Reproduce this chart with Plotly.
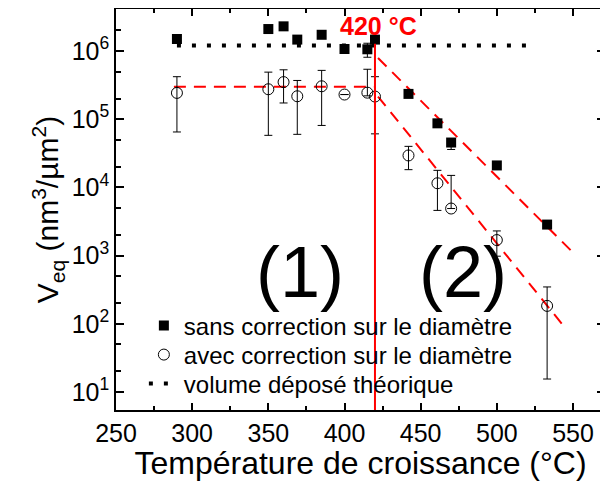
import plotly.graph_objects as go

# ---- data ----
temps = [290, 350, 360, 369, 385, 400, 415, 420, 442, 461, 470, 500, 533]
v_sans = [1.5e6, 2.1e6, 2.3e6, 1.47e6, 1.73e6, 1.07e6, 1.06e6, 1.47e6, 2.35e5, 8.7e4, 4.55e4, 2.1e4, 2.85e3]
sans_top = [1.5e6, 2.1e6, 2.3e6, 1.47e6, 1.73e6, 1.07e6, 1.3e6, 1.47e6, 2.35e5, 8.7e4, 4.8e4, 2.1e4, 2.85e3]
sans_bot = [1.5e6, 2.1e6, 2.3e6, 1.47e6, 1.73e6, 1.07e6, 8.1e5, 1.47e6, 2.35e5, 8.7e4, 3.6e4, 2.1e4, 2.85e3]

v_avec = [2.43e5, 2.75e5, 3.5e5, 2.17e5, 3.04e5, 2.3e5, 2.45e5, 2.15e5, 2.94e4, 1.15e4, 4.9e3, 1.69e3, 183]
avec_top = [4.2e5, 4.9e5, 5.3e5, 3.7e5, 5.2e5, 2.3e5, 5.4e5, 4.2e5, 4.0e4, 1.78e4, 1.5e4, 2.3e3, 347]
avec_bot = [6.5e4, 5.8e4, 1.73e5, 6.0e4, 8.1e4, 2.3e5, 2.2e5, 6.1e4, 1.82e4, 4.6e3, 4.9e3, 980, 15.5]

theo_t = [290, 525]
theo_v = [1.2e6, 1.2e6]

regime1_t = [288, 420]
regime1_v = [3.0e5, 3.0e5]
fit_sans_t = [422, 552]
fit_sans_v = [7.9e5, 1.0e3]
fit_avec_t = [422, 543]
fit_avec_v = [2.15e5, 98]

t_transition = 420
v_transition = [1, 1.28e6]

x_ticks = [250, 300, 350, 400, 450, 500, 550]
y_ticks = [1e1, 1e2, 1e3, 1e4, 1e5, 1e6]
y_ticktext = ["10<sup>1</sup>", "10<sup>2</sup>", "10<sup>3</sup>", "10<sup>4</sup>", "10<sup>5</sup>", "10<sup>6</sup>"]

FONT = "Liberation Sans, Arial, sans-serif"
RED = "#ff0000"

fig = go.Figure()

# red fit lines (not in legend)
fig.add_trace(go.Scatter(x=regime1_t, y=regime1_v, mode="lines", showlegend=False,
                         line=dict(color=RED, width=2, dash="12px,8px")))
fig.add_trace(go.Scatter(x=fit_sans_t, y=fit_sans_v, mode="lines", showlegend=False,
                         line=dict(color=RED, width=2, dash="12px,8px")))
fig.add_trace(go.Scatter(x=fit_avec_t, y=fit_avec_v, mode="lines", showlegend=False,
                         line=dict(color=RED, width=2, dash="12px,8px")))

fig.add_trace(go.Scatter(
    x=temps, y=v_sans, mode="markers", name="sans correction sur le diamètre", legend="legend",
    marker=dict(symbol="square", size=10, color="black"),
    error_y=dict(type="data", symmetric=False,
                 array=[t - v for t, v in zip(sans_top, v_sans)],
                 arrayminus=[v - b for v, b in zip(v_sans, sans_bot)],
                 color="black", thickness=1, width=4)))

fig.add_trace(go.Scatter(
    x=temps, y=v_avec, mode="markers", name="avec correction sur le diamètre", legend="legend2",
    marker=dict(symbol="circle-open", size=11, color="black", line=dict(width=1)),
    error_y=dict(type="data", symmetric=False,
                 array=[t - v for t, v in zip(avec_top, v_avec)],
                 arrayminus=[v - b for v, b in zip(v_avec, avec_bot)],
                 color="black", thickness=1, width=4)))

fig.add_trace(go.Scatter(x=theo_t, y=theo_v, mode="lines", name="volume déposé théorique",
                         legend="legend3",
                         line=dict(color="black", width=4, dash="4px,11px")))

fig.add_trace(go.Scatter(x=[t_transition, t_transition], y=v_transition, mode="lines",
                         showlegend=False, line=dict(color=RED, width=2)))

fig.add_annotation(x=422, y=6.37, xref="x", yref="y", text="<b>420 °C</b>",
                   showarrow=False, font=dict(family=FONT, size=25, color=RED))
fig.add_annotation(x=371, y=2.76, xref="x", yref="y", text="(1)", showarrow=False,
                   font=dict(family=FONT, size=72, color="black"))
fig.add_annotation(x=478, y=2.76, xref="x", yref="y", text="(2)", showarrow=False,
                   font=dict(family=FONT, size=72, color="black"))

axis_common = dict(showline=True, linecolor="black", linewidth=1.5, mirror="ticks",
                   ticks="inside", tickcolor="black", showgrid=False, zeroline=False,
                   automargin=False)

leg_common = dict(x=0.057, xanchor="left", yanchor="middle", bgcolor="rgba(0,0,0,0)",
                  font=dict(family=FONT, size=24, color="black"), itemwidth=30)

# page body has an 8px default margin, so the figure is 8px smaller than the window
fig.update_layout(
    width=600, height=473,
    margin=dict(l=108, r=3, t=1, b=71),
    paper_bgcolor="white", plot_bgcolor="white",
    font=dict(family=FONT, color="black"),
    xaxis=dict(range=[250, 571], tickvals=x_ticks, ticklen=7, tickwidth=1.5,
               tickfont=dict(size=25),
               minor=dict(ticks="inside", dtick=25, tick0=250, ticklen=4, tickcolor="black", showgrid=False),
               title=dict(text="Température de croissance (°C)", font=dict(size=32), standoff=0),
               **axis_common),
    yaxis=dict(type="log", range=[0.736, 6.616], tickvals=y_ticks, ticktext=y_ticktext,
               ticklen=8, tickwidth=1.5, tickfont=dict(size=25),
               minor=dict(ticks="inside", ticklen=5, tickcolor="black", showgrid=False),
               title=dict(text="V<sub>eq</sub> (nm<sup>3</sup>/µm<sup>2</sup>)", font=dict(size=30), standoff=4),
               **axis_common),
    legend=dict(y=0.2095, **leg_common),
    legend2=dict(y=0.1372, **leg_common),
    legend3=dict(y=0.0648, **leg_common),
)

fig.write_html("out.html")
